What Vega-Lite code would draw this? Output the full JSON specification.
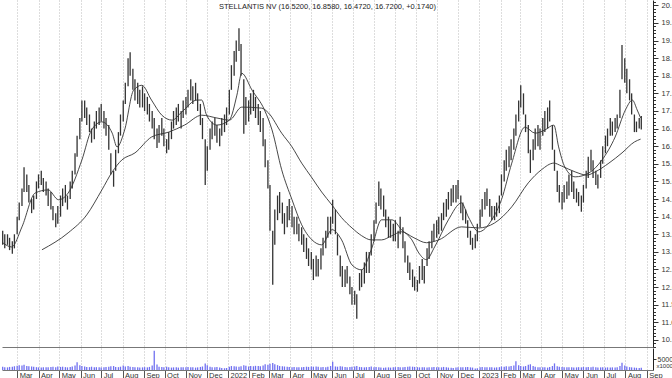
{
"$schema":"https://vega.github.io/schema/vega-lite/v6.json",
"padding":0,
"autosize":{"type":"pad"},
"spacing":0,
"config":{"view":{"stroke":null},"font":"Liberation Sans"},
"resolve":{"scale":{"y":"independent"},"axis":{"y":"independent"}},
"datasets":{
"px":[
{"d":"2021-02-08","h":13.6,"l":13.2,"v":15000},{"d":"2021-02-11","h":13.5,"l":13.1,"v":13000},
{"d":"2021-02-15","h":13.5,"l":13.2,"v":12000},{"d":"2021-02-18","h":13.4,"l":13.05,"v":14000},
{"d":"2021-02-22","h":13.3,"l":12.95,"v":15000},{"d":"2021-02-25","h":13.5,"l":13.1,"v":17000},
{"d":"2021-03-01","h":14.0,"l":13.5,"v":19000},{"d":"2021-03-04","h":14.4,"l":13.9,"v":22000},
{"d":"2021-03-08","h":14.8,"l":14.3,"v":20000},{"d":"2021-03-11","h":15.4,"l":14.7,"v":24000},
{"d":"2021-03-15","h":15.2,"l":14.7,"v":18000},{"d":"2021-03-18","h":14.9,"l":14.4,"v":17000},
{"d":"2021-03-22","h":14.5,"l":14.1,"v":16000},{"d":"2021-03-25","h":14.6,"l":14.2,"v":15000},
{"d":"2021-03-29","h":15.0,"l":14.5,"v":13000},{"d":"2021-04-01","h":15.2,"l":14.8,"v":12000},
{"d":"2021-04-05","h":15.3,"l":14.9,"v":11000},{"d":"2021-04-08","h":15.1,"l":14.7,"v":12000},
{"d":"2021-04-12","h":15.0,"l":14.6,"v":13000},{"d":"2021-04-15","h":14.8,"l":14.3,"v":12000},
{"d":"2021-04-19","h":14.7,"l":14.2,"v":14000},{"d":"2021-04-22","h":14.3,"l":13.9,"v":15000},
{"d":"2021-04-26","h":14.1,"l":13.7,"v":13000},{"d":"2021-04-29","h":14.3,"l":13.8,"v":16000},
{"d":"2021-05-03","h":14.6,"l":14.0,"v":14000},{"d":"2021-05-06","h":14.8,"l":14.3,"v":15000},
{"d":"2021-05-10","h":14.9,"l":14.4,"v":13000},{"d":"2021-05-13","h":14.6,"l":14.2,"v":12000},
{"d":"2021-05-17","h":15.0,"l":14.5,"v":14000},{"d":"2021-05-20","h":15.3,"l":14.8,"v":16000},
{"d":"2021-05-24","h":15.8,"l":15.2,"v":20000},{"d":"2021-05-27","h":16.3,"l":15.7,"v":35000},
{"d":"2021-05-31","h":16.8,"l":16.2,"v":22000},{"d":"2021-06-03","h":17.3,"l":16.7,"v":18000},
{"d":"2021-06-07","h":17.3,"l":16.8,"v":16000},{"d":"2021-06-10","h":17.1,"l":16.6,"v":14000},
{"d":"2021-06-14","h":16.9,"l":16.4,"v":13000},{"d":"2021-06-17","h":16.5,"l":16.1,"v":15000},
{"d":"2021-06-21","h":16.7,"l":16.2,"v":12000},{"d":"2021-06-24","h":17.0,"l":16.5,"v":13000},
{"d":"2021-06-28","h":17.1,"l":16.6,"v":12000},{"d":"2021-07-01","h":17.2,"l":16.7,"v":11000},
{"d":"2021-07-05","h":17.0,"l":16.5,"v":12000},{"d":"2021-07-08","h":16.8,"l":16.3,"v":14000},
{"d":"2021-07-12","h":16.6,"l":15.9,"v":15000},{"d":"2021-07-15","h":15.8,"l":15.2,"v":17000},
{"d":"2021-07-19","h":15.3,"l":14.85,"v":18000},{"d":"2021-07-22","h":15.9,"l":15.3,"v":14000},
{"d":"2021-07-26","h":16.4,"l":15.8,"v":13000},{"d":"2021-07-29","h":16.9,"l":16.3,"v":15000},
{"d":"2021-08-02","h":17.3,"l":16.7,"v":20000},{"d":"2021-08-05","h":17.8,"l":17.2,"v":16000},
{"d":"2021-08-09","h":18.5,"l":17.7,"v":18000},{"d":"2021-08-12","h":18.67,"l":18.0,"v":15000},
{"d":"2021-08-16","h":18.2,"l":17.6,"v":14000},{"d":"2021-08-19","h":17.9,"l":17.3,"v":13000},
{"d":"2021-08-23","h":17.8,"l":17.2,"v":12000},{"d":"2021-08-26","h":17.6,"l":17.1,"v":11000},
{"d":"2021-08-30","h":17.7,"l":17.1,"v":12000},{"d":"2021-09-02","h":17.5,"l":17.0,"v":13000},
{"d":"2021-09-06","h":17.4,"l":16.9,"v":12000},{"d":"2021-09-09","h":17.2,"l":16.7,"v":14000},
{"d":"2021-09-13","h":17.0,"l":16.5,"v":20000},{"d":"2021-09-16","h":16.8,"l":16.2,"v":88000},
{"d":"2021-09-20","h":16.5,"l":15.95,"v":25000},{"d":"2021-09-23","h":16.6,"l":16.1,"v":15000},
{"d":"2021-09-27","h":16.8,"l":16.3,"v":14000},{"d":"2021-09-30","h":16.5,"l":16.0,"v":13000},
{"d":"2021-10-04","h":16.2,"l":15.8,"v":15000},{"d":"2021-10-07","h":16.4,"l":15.9,"v":12000},
{"d":"2021-10-11","h":16.7,"l":16.2,"v":11000},{"d":"2021-10-14","h":17.0,"l":16.5,"v":12000},
{"d":"2021-10-18","h":17.1,"l":16.6,"v":13000},{"d":"2021-10-21","h":17.2,"l":16.7,"v":11000},
{"d":"2021-10-25","h":17.0,"l":16.5,"v":12000},{"d":"2021-10-28","h":17.3,"l":16.8,"v":13000},
{"d":"2021-11-01","h":17.4,"l":16.9,"v":12000},{"d":"2021-11-04","h":17.6,"l":17.1,"v":14000},
{"d":"2021-11-08","h":17.9,"l":17.3,"v":13000},{"d":"2021-11-11","h":17.7,"l":17.2,"v":12000},
{"d":"2021-11-15","h":17.8,"l":17.3,"v":11000},{"d":"2021-11-18","h":17.5,"l":17.0,"v":12000},
{"d":"2021-11-22","h":17.2,"l":16.6,"v":14000},{"d":"2021-11-25","h":16.8,"l":16.2,"v":16000},
{"d":"2021-11-29","h":16.2,"l":14.9,"v":30000},{"d":"2021-12-02","h":16.0,"l":15.3,"v":22000},
{"d":"2021-12-06","h":16.5,"l":15.9,"v":15000},{"d":"2021-12-09","h":16.7,"l":16.2,"v":13000},
{"d":"2021-12-13","h":16.8,"l":16.3,"v":12000},{"d":"2021-12-16","h":16.6,"l":16.1,"v":14000},
{"d":"2021-12-20","h":16.5,"l":16.0,"v":11000},{"d":"2021-12-23","h":16.8,"l":16.3,"v":9000},
{"d":"2021-12-27","h":16.9,"l":16.4,"v":8000},{"d":"2021-12-30","h":17.1,"l":16.6,"v":9000},
{"d":"2022-01-03","h":17.6,"l":16.9,"v":15000},{"d":"2022-01-06","h":18.3,"l":17.6,"v":18000},
{"d":"2022-01-10","h":18.7,"l":18.0,"v":17000},{"d":"2022-01-13","h":19.0,"l":18.4,"v":16000},
{"d":"2022-01-17","h":19.35,"l":18.7,"v":15000},{"d":"2022-01-20","h":18.9,"l":18.0,"v":17000},
{"d":"2022-01-24","h":17.9,"l":16.35,"v":22000},{"d":"2022-01-27","h":17.4,"l":16.6,"v":19000},
{"d":"2022-01-31","h":17.3,"l":16.7,"v":16000},{"d":"2022-02-03","h":17.5,"l":16.9,"v":18000},
{"d":"2022-02-07","h":17.6,"l":17.0,"v":17000},{"d":"2022-02-10","h":17.4,"l":16.8,"v":19000},
{"d":"2022-02-14","h":17.2,"l":16.6,"v":18000},{"d":"2022-02-17","h":17.0,"l":16.4,"v":17000},
{"d":"2022-02-21","h":16.8,"l":16.0,"v":20000},{"d":"2022-02-24","h":16.2,"l":15.4,"v":26000},
{"d":"2022-02-28","h":15.6,"l":14.8,"v":24000},{"d":"2022-03-03","h":14.9,"l":13.6,"v":28000},
{"d":"2022-03-07","h":13.6,"l":12.07,"v":32000},{"d":"2022-03-10","h":14.2,"l":13.2,"v":26000},
{"d":"2022-03-14","h":14.6,"l":13.9,"v":22000},{"d":"2022-03-17","h":14.7,"l":14.1,"v":18000},
{"d":"2022-03-21","h":14.4,"l":13.8,"v":17000},{"d":"2022-03-24","h":14.1,"l":13.5,"v":16000},
{"d":"2022-03-28","h":14.3,"l":13.7,"v":15000},{"d":"2022-03-31","h":14.5,"l":13.9,"v":14000},
{"d":"2022-04-04","h":14.3,"l":13.7,"v":13000},{"d":"2022-04-07","h":14.0,"l":13.5,"v":14000},
{"d":"2022-04-11","h":14.0,"l":13.5,"v":13000},{"d":"2022-04-14","h":13.8,"l":13.3,"v":12000},
{"d":"2022-04-18","h":13.7,"l":13.2,"v":13000},{"d":"2022-04-21","h":13.5,"l":13.0,"v":14000},
{"d":"2022-04-25","h":13.4,"l":12.8,"v":15000},{"d":"2022-04-28","h":13.1,"l":12.6,"v":14000},
{"d":"2022-05-02","h":13.0,"l":12.5,"v":16000},{"d":"2022-05-05","h":12.8,"l":12.2,"v":15000},
{"d":"2022-05-09","h":12.9,"l":12.3,"v":16000},{"d":"2022-05-12","h":12.8,"l":12.3,"v":15000},
{"d":"2022-05-16","h":13.1,"l":12.5,"v":13000},{"d":"2022-05-19","h":13.4,"l":12.9,"v":14000},
{"d":"2022-05-23","h":13.6,"l":13.1,"v":13000},{"d":"2022-05-26","h":14.0,"l":13.4,"v":15000},
{"d":"2022-05-30","h":14.0,"l":13.5,"v":18000},{"d":"2022-06-02","h":14.48,"l":13.8,"v":38000},
{"d":"2022-06-06","h":14.2,"l":13.5,"v":16000},{"d":"2022-06-09","h":13.5,"l":12.9,"v":15000},
{"d":"2022-06-13","h":12.9,"l":12.3,"v":17000},{"d":"2022-06-16","h":12.6,"l":12.0,"v":16000},
{"d":"2022-06-20","h":12.5,"l":12.0,"v":14000},{"d":"2022-06-23","h":12.6,"l":12.1,"v":13000},
{"d":"2022-06-27","h":12.3,"l":11.8,"v":14000},{"d":"2022-06-30","h":12.0,"l":11.5,"v":15000},
{"d":"2022-07-04","h":11.9,"l":11.5,"v":16000},{"d":"2022-07-07","h":11.8,"l":11.1,"v":18000},
{"d":"2022-07-11","h":12.4,"l":11.9,"v":14000},{"d":"2022-07-14","h":12.5,"l":12.0,"v":13000},
{"d":"2022-07-18","h":12.7,"l":12.1,"v":12000},{"d":"2022-07-21","h":13.0,"l":12.4,"v":13000},
{"d":"2022-07-25","h":13.0,"l":12.4,"v":14000},{"d":"2022-07-28","h":13.5,"l":12.9,"v":16000},
{"d":"2022-08-01","h":13.9,"l":13.3,"v":13000},{"d":"2022-08-04","h":14.4,"l":13.8,"v":14000},
{"d":"2022-08-08","h":15.0,"l":14.3,"v":12000},{"d":"2022-08-11","h":14.8,"l":14.2,"v":11000},
{"d":"2022-08-15","h":14.6,"l":14.0,"v":10000},{"d":"2022-08-18","h":14.2,"l":13.7,"v":11000},
{"d":"2022-08-22","h":14.0,"l":13.4,"v":12000},{"d":"2022-08-25","h":13.9,"l":13.4,"v":11000},
{"d":"2022-08-29","h":13.8,"l":13.3,"v":12000},{"d":"2022-09-01","h":13.9,"l":13.3,"v":13000},
{"d":"2022-09-05","h":13.6,"l":13.1,"v":14000},{"d":"2022-09-08","h":14.0,"l":13.5,"v":13000},
{"d":"2022-09-12","h":13.7,"l":13.1,"v":12000},{"d":"2022-09-15","h":13.3,"l":12.7,"v":14000},
{"d":"2022-09-19","h":12.9,"l":12.4,"v":15000},{"d":"2022-09-22","h":12.7,"l":12.2,"v":16000},
{"d":"2022-09-26","h":12.5,"l":12.0,"v":15000},{"d":"2022-09-29","h":12.3,"l":11.9,"v":14000},
{"d":"2022-10-03","h":12.2,"l":11.87,"v":13000},{"d":"2022-10-06","h":12.6,"l":12.1,"v":12000},
{"d":"2022-10-10","h":12.8,"l":12.2,"v":13000},{"d":"2022-10-13","h":12.6,"l":12.1,"v":12000},
{"d":"2022-10-17","h":13.1,"l":12.6,"v":11000},{"d":"2022-10-20","h":13.3,"l":12.8,"v":12000},
{"d":"2022-10-24","h":13.6,"l":13.1,"v":13000},{"d":"2022-10-27","h":13.8,"l":13.3,"v":14000},
{"d":"2022-10-31","h":13.9,"l":13.4,"v":12000},{"d":"2022-11-03","h":14.0,"l":13.5,"v":13000},
{"d":"2022-11-07","h":14.1,"l":13.6,"v":12000},{"d":"2022-11-10","h":14.4,"l":13.9,"v":14000},
{"d":"2022-11-14","h":14.5,"l":14.0,"v":12000},{"d":"2022-11-17","h":14.7,"l":14.2,"v":11000},
{"d":"2022-11-21","h":14.8,"l":14.3,"v":10000},{"d":"2022-11-24","h":14.9,"l":14.4,"v":9000},
{"d":"2022-11-28","h":14.9,"l":14.4,"v":11000},{"d":"2022-12-01","h":15.04,"l":14.5,"v":12000},
{"d":"2022-12-05","h":14.6,"l":14.1,"v":13000},{"d":"2022-12-08","h":14.4,"l":13.9,"v":12000},
{"d":"2022-12-12","h":14.2,"l":13.8,"v":13000},{"d":"2022-12-15","h":13.9,"l":13.4,"v":14000},
{"d":"2022-12-19","h":13.6,"l":13.2,"v":12000},{"d":"2022-12-22","h":13.4,"l":13.06,"v":11000},
{"d":"2022-12-26","h":13.5,"l":13.1,"v":7000},{"d":"2022-12-29","h":13.8,"l":13.3,"v":8000},
{"d":"2023-01-02","h":14.2,"l":13.7,"v":12000},{"d":"2023-01-05","h":14.5,"l":14.0,"v":14000},
{"d":"2023-01-09","h":14.7,"l":14.2,"v":13000},{"d":"2023-01-12","h":14.8,"l":14.3,"v":12000},
{"d":"2023-01-16","h":14.5,"l":14.0,"v":13000},{"d":"2023-01-19","h":14.3,"l":13.9,"v":12000},
{"d":"2023-01-23","h":14.3,"l":13.9,"v":11000},{"d":"2023-01-26","h":14.4,"l":14.0,"v":12000},
{"d":"2023-01-30","h":14.6,"l":14.1,"v":13000},{"d":"2023-02-02","h":15.2,"l":14.6,"v":16000},
{"d":"2023-02-06","h":15.6,"l":15.0,"v":15000},{"d":"2023-02-09","h":15.9,"l":15.3,"v":17000},
{"d":"2023-02-13","h":16.0,"l":15.4,"v":16000},{"d":"2023-02-16","h":16.2,"l":15.6,"v":18000},
{"d":"2023-02-20","h":16.5,"l":15.9,"v":20000},{"d":"2023-02-23","h":16.9,"l":16.3,"v":40000},
{"d":"2023-02-27","h":17.3,"l":16.7,"v":22000},{"d":"2023-03-02","h":17.73,"l":17.1,"v":18000},
{"d":"2023-03-06","h":17.5,"l":16.9,"v":16000},{"d":"2023-03-09","h":16.9,"l":16.4,"v":18000},
{"d":"2023-03-13","h":16.6,"l":15.8,"v":24000},{"d":"2023-03-16","h":15.9,"l":15.24,"v":26000},
{"d":"2023-03-20","h":16.2,"l":15.6,"v":18000},{"d":"2023-03-23","h":16.5,"l":15.9,"v":15000},
{"d":"2023-03-27","h":16.6,"l":16.0,"v":13000},{"d":"2023-03-30","h":16.5,"l":15.9,"v":12000},
{"d":"2023-04-03","h":16.8,"l":16.3,"v":13000},{"d":"2023-04-06","h":17.0,"l":16.4,"v":12000},
{"d":"2023-04-10","h":17.1,"l":16.5,"v":11000},{"d":"2023-04-13","h":17.3,"l":16.7,"v":14000},
{"d":"2023-04-17","h":16.6,"l":15.9,"v":18000},{"d":"2023-04-20","h":15.9,"l":15.3,"v":30000},
{"d":"2023-04-24","h":15.3,"l":14.7,"v":17000},{"d":"2023-04-27","h":14.9,"l":14.4,"v":15000},
{"d":"2023-05-01","h":14.7,"l":14.2,"v":14000},{"d":"2023-05-04","h":14.9,"l":14.4,"v":13000},
{"d":"2023-05-08","h":15.0,"l":14.5,"v":12000},{"d":"2023-05-11","h":15.2,"l":14.6,"v":13000},
{"d":"2023-05-15","h":15.3,"l":14.7,"v":12000},{"d":"2023-05-18","h":15.0,"l":14.5,"v":11000},
{"d":"2023-05-22","h":14.8,"l":14.4,"v":12000},{"d":"2023-05-25","h":14.7,"l":14.3,"v":13000},
{"d":"2023-05-29","h":14.6,"l":14.14,"v":12000},{"d":"2023-06-01","h":14.9,"l":14.4,"v":14000},
{"d":"2023-06-05","h":15.3,"l":14.8,"v":13000},{"d":"2023-06-08","h":15.7,"l":15.1,"v":14000},
{"d":"2023-06-12","h":15.9,"l":15.3,"v":13000},{"d":"2023-06-15","h":15.6,"l":15.1,"v":15000},
{"d":"2023-06-19","h":15.3,"l":14.9,"v":12000},{"d":"2023-06-22","h":15.2,"l":14.8,"v":11000},
{"d":"2023-06-26","h":15.6,"l":15.1,"v":12000},{"d":"2023-06-29","h":16.0,"l":15.5,"v":13000},
{"d":"2023-07-03","h":16.3,"l":15.8,"v":11000},{"d":"2023-07-06","h":16.5,"l":16.0,"v":12000},
{"d":"2023-07-10","h":16.8,"l":16.3,"v":11000},{"d":"2023-07-13","h":16.7,"l":16.3,"v":12000},
{"d":"2023-07-17","h":16.8,"l":16.4,"v":11000},{"d":"2023-07-20","h":16.9,"l":16.5,"v":13000},
{"d":"2023-07-24","h":17.6,"l":16.8,"v":18000},{"d":"2023-07-27","h":18.87,"l":17.9,"v":33000},
{"d":"2023-07-31","h":18.5,"l":17.8,"v":20000},{"d":"2023-08-03","h":18.2,"l":17.5,"v":16000},
{"d":"2023-08-07","h":17.9,"l":17.3,"v":13000},{"d":"2023-08-10","h":17.5,"l":16.9,"v":12000},
{"d":"2023-08-14","h":16.9,"l":16.4,"v":11000},{"d":"2023-08-17","h":16.7,"l":16.4,"v":10000},
{"d":"2023-08-21","h":16.8,"l":16.5,"v":9000},{"d":"2023-08-24","h":16.858,"l":16.472,"v":10000}
],
"ma":[
{"d":"2021-02-08","k":"f","m":13.26},{"d":"2021-02-21","k":"f","m":13.14},{"d":"2021-03-08","k":"f","m":13.71},
{"d":"2021-03-27","k":"f","m":14.67},{"d":"2021-04-15","k":"f","m":14.76},{"d":"2021-04-30","k":"f","m":14.48},
{"d":"2021-05-14","k":"f","m":14.67},{"d":"2021-06-03","k":"f","m":15.61},{"d":"2021-06-17","k":"f","m":16.46},
{"d":"2021-07-02","k":"f","m":16.69},{"d":"2021-07-17","k":"f","m":16.37},{"d":"2021-07-24","k":"f","m":15.98},
{"d":"2021-08-04","k":"f","m":16.46},{"d":"2021-08-17","k":"f","m":17.59},{"d":"2021-08-29","k":"f","m":17.73},
{"d":"2021-09-12","k":"f","m":17.31},{"d":"2021-09-27","k":"f","m":16.88},{"d":"2021-10-12","k":"f","m":16.74},
{"d":"2021-10-26","k":"f","m":16.97},{"d":"2021-11-17","k":"f","m":17.31},{"d":"2021-11-24","k":"f","m":17.31},
{"d":"2021-12-01","k":"f","m":16.88},{"d":"2021-12-16","k":"f","m":16.6},{"d":"2022-01-03","k":"f","m":16.74},
{"d":"2022-01-14","k":"f","m":17.45},{"d":"2022-01-21","k":"f","m":18.07},{"d":"2022-02-05","k":"f","m":17.59},
{"d":"2022-02-23","k":"f","m":17.03},{"d":"2022-03-06","k":"f","m":16.46},{"d":"2022-03-20","k":"f","m":15.33},
{"d":"2022-04-04","k":"f","m":14.48},{"d":"2022-04-18","k":"f","m":13.77},{"d":"2022-05-03","k":"f","m":13.34},
{"d":"2022-05-17","k":"f","m":13.2},{"d":"2022-06-01","k":"f","m":13.63},{"d":"2022-06-15","k":"f","m":13.34},
{"d":"2022-06-30","k":"f","m":12.63},{"d":"2022-07-14","k":"f","m":12.49},{"d":"2022-07-28","k":"f","m":13.06},
{"d":"2022-08-12","k":"f","m":13.91},{"d":"2022-08-27","k":"f","m":13.91},{"d":"2022-09-10","k":"f","m":13.63},
{"d":"2022-09-25","k":"f","m":13.34},{"d":"2022-10-05","k":"f","m":12.97},{"d":"2022-10-16","k":"f","m":12.78},
{"d":"2022-10-28","k":"f","m":13.14},{"d":"2022-11-17","k":"f","m":13.91},{"d":"2022-12-06","k":"f","m":14.39},
{"d":"2022-12-16","k":"f","m":13.99},{"d":"2022-12-31","k":"f","m":13.57},{"d":"2023-01-19","k":"f","m":13.91},
{"d":"2023-02-02","k":"f","m":14.48},{"d":"2023-02-17","k":"f","m":15.52},{"d":"2023-03-08","k":"f","m":16.54},
{"d":"2023-03-23","k":"f","m":16.37},{"d":"2023-04-06","k":"f","m":16.46},{"d":"2023-04-19","k":"f","m":16.6},
{"d":"2023-04-26","k":"f","m":15.98},{"d":"2023-05-05","k":"f","m":15.41},{"d":"2023-05-20","k":"f","m":15.13},
{"d":"2023-06-09","k":"f","m":15.24},{"d":"2023-06-28","k":"f","m":15.61},{"d":"2023-07-17","k":"f","m":16.26},
{"d":"2023-08-01","k":"f","m":17.03},{"d":"2023-08-11","k":"f","m":17.31},{"d":"2023-08-18","k":"f","m":17.03},
{"d":"2023-08-23","k":"f","m":16.8},
{"d":"2021-04-06","k":"s","m":13.06},{"d":"2021-05-14","k":"s","m":13.54},{"d":"2021-06-10","k":"s","m":14.05},
{"d":"2021-07-02","k":"s","m":14.76},{"d":"2021-07-17","k":"s","m":15.27},{"d":"2021-07-31","k":"s","m":15.61},
{"d":"2021-08-19","k":"s","m":15.81},{"d":"2021-09-12","k":"s","m":16.26},{"d":"2021-10-07","k":"s","m":16.4},
{"d":"2021-10-30","k":"s","m":16.6},{"d":"2021-11-24","k":"s","m":16.88},{"d":"2021-12-16","k":"s","m":16.8},
{"d":"2022-01-03","k":"s","m":16.74},{"d":"2022-01-21","k":"s","m":17.11},{"d":"2022-02-19","k":"s","m":17.08},
{"d":"2022-03-01","k":"s","m":16.94},{"d":"2022-03-20","k":"s","m":16.37},{"d":"2022-04-04","k":"s","m":15.98},
{"d":"2022-04-18","k":"s","m":15.52},{"d":"2022-05-03","k":"s","m":15.1},{"d":"2022-05-17","k":"s","m":14.7},
{"d":"2022-06-01","k":"s","m":14.33},{"d":"2022-06-15","k":"s","m":13.97},{"d":"2022-06-30","k":"s","m":13.68},
{"d":"2022-07-14","k":"s","m":13.46},{"d":"2022-07-28","k":"s","m":13.34},{"d":"2022-08-12","k":"s","m":13.34},
{"d":"2022-08-27","k":"s","m":13.46},{"d":"2022-09-10","k":"s","m":13.57},{"d":"2022-09-28","k":"s","m":13.4},
{"d":"2022-10-16","k":"s","m":13.26},{"d":"2022-11-03","k":"s","m":13.34},{"d":"2022-12-06","k":"s","m":13.71},
{"d":"2022-12-31","k":"s","m":13.68},{"d":"2023-01-23","k":"s","m":13.82},{"d":"2023-02-17","k":"s","m":14.28},
{"d":"2023-03-13","k":"s","m":14.96},{"d":"2023-04-01","k":"s","m":15.33},{"d":"2023-04-19","k":"s","m":15.52},
{"d":"2023-04-30","k":"s","m":15.44},{"d":"2023-05-20","k":"s","m":15.27},{"d":"2023-06-06","k":"s","m":15.18},
{"d":"2023-06-18","k":"s","m":15.27},{"d":"2023-07-08","k":"s","m":15.52},{"d":"2023-07-27","k":"s","m":15.81},
{"d":"2023-08-14","k":"s","m":16.12},{"d":"2023-08-23","k":"s","m":16.2}
]
},
"vconcat":[
{
"width":651,"height":347,
"title":{"text":"STELLANTIS NV (16.5200, 16.8580, 16.4720, 16.7200, +0.1740)","fontSize":7.5,"fontWeight":"normal","color":"#222","font":"Liberation Sans","offset":-10,"baseline":"top","dy":0,"anchor":"middle","frame":"group"},
"layer":[
{"data":{"name":"px"},"mark":{"type":"rule","color":"#333","strokeWidth":1.3},
"encoding":{
"x":{"field":"d","type":"temporal","scale":{"domain":[{"year":2021,"month":2,"date":7},{"year":2023,"month":9,"date":10}]},
"axis":{"orient":"bottom","labels":false,"ticks":false,"domain":true,"domainColor":"#777","grid":true,"gridDash":[1,2],"gridColor":"#bbb","tickCount":{"interval":"month","step":1},"title":null}},
"y":{"field":"l","type":"quantitative","scale":{"domain":[10.3,20.15],"zero":false,"nice":false},
"axis":{"orient":"right","tickCount":100,"labelOverlap":false,"labelFlush":false,"labelBound":false,
"labelExpr":"abs(datum.value*2-round(datum.value*2))<0.001 ? format(datum.value,'.1f') : ''",
"labelFontSize":{"condition":{"test":"abs(datum.value*2-round(datum.value*2))<0.001","value":7.5},"value":0},
"tickSize":{"condition":{"test":"abs(datum.value*2-round(datum.value*2))<0.001","value":5},"value":2.5},
"labelPadding":3,"labelColor":"#333","tickColor":"#333","domainColor":"#222","grid":false,"title":null}},
"y2":{"field":"h"}}},
{"data":{"name":"ma"},"mark":{"type":"line","color":"#333","strokeWidth":0.9,"interpolate":"monotone"},
"encoding":{"x":{"field":"d","type":"temporal"},"y":{"field":"m","type":"quantitative"},"detail":{"field":"k"}}}
]
},
{
"width":651,"height":22,
"data":{"name":"px"},
"mark":{"type":"rule","color":"#7070f0","strokeWidth":1.3},
"encoding":{
"x":{"field":"d","type":"temporal","scale":{"domain":[{"year":2021,"month":2,"date":7},{"year":2023,"month":9,"date":10}]},
"axis":{"orient":"bottom","tickCount":{"interval":"month","step":1},
"labelExpr":"month(datum.value)==0 ? timeFormat(datum.value,'%Y') : timeFormat(datum.value,'%b')",
"labelAlign":"left","labelBaseline":"top","labelPadding":-8,"labelOffset":2,"tickSize":9,"labelFontSize":7.5,"labelColor":"#333",
"grid":true,"gridDash":[1,2],"gridColor":"#bbb","domainColor":"#777","tickColor":"#555","title":null,"labelFlush":false,"labelOverlap":false}},
"y":{"field":"v","type":"quantitative","scale":{"domain":[0,100000],"nice":false},
"axis":{"orient":"right","values":[50000],"labelExpr":"'50000'","tickSize":3,"labelPadding":1,"labelFontSize":7,"labelColor":"#333","tickColor":"#333","domainColor":"#222",
"title":"x1000","titleAngle":0,"titleFontSize":6,"titleFontWeight":"normal","titleColor":"#333","titleAlign":"left","titleBaseline":"top","titleX":3,"titleY":14,"grid":false}},
"y2":{"datum":0}}
}
]
}
